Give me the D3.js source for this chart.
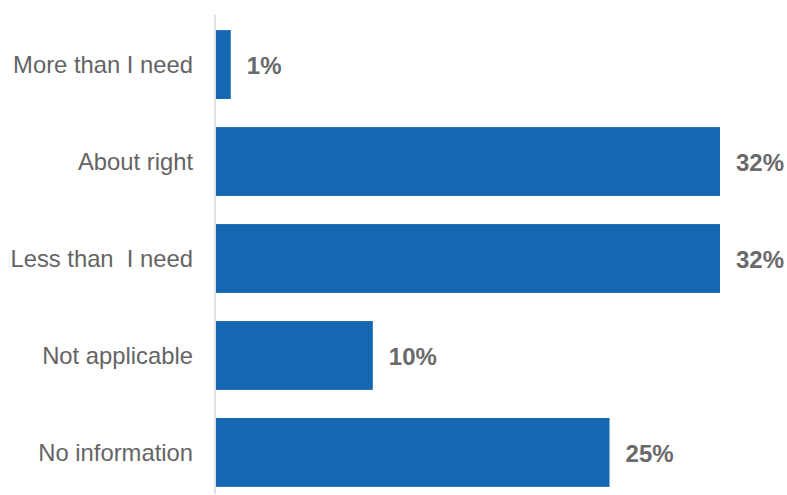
<!DOCTYPE html>
<html>
<head>
<meta charset="utf-8">
<script src="https://cdn.jsdelivr.net/npm/d3@7"></script>
<style>
  html, body { margin: 0; padding: 0; background: #fff; }
  svg { display: block; }
  text { white-space: pre; }
</style>
</head>
<body>
<svg id="chart" width="787" height="495"></svg>
<script>
const categories = ["More than I need", "About right", "Less than  I need", "Not applicable", "No information"];
const values = [1, 32, 32, 10, 25];
const valueLabels = ["1%", "32%", "32%", "10%", "25%"];

const svg = d3.select("#chart");
const font = "'Liberation Sans', Arial, sans-serif";

const x = d3.scaleLinear().domain([0, 32]).range([215, 720]);
const y = d3.scaleBand().domain(categories).range([2, 515]).paddingInner(0.29).paddingOuter(0.29);

// vertical category axis line
svg.append("line")
  .attr("x1", x(0)).attr("x2", x(0))
  .attr("y1", 15).attr("y2", 494)
  .attr("stroke", "#d9d9d9").attr("stroke-width", 1.5);

const rows = categories.map((c, i) => ({ c, v: values[i], l: valueLabels[i] }));

svg.selectAll("rect.bar").data(rows).join("rect")
  .attr("class", "bar")
  .attr("x", x(0) + 1)
  .attr("y", d => y(d.c))
  .attr("width", d => x(d.v) - x(0) - 1)
  .attr("height", y.bandwidth())
  .attr("fill", "#1467b0");

svg.selectAll("text.cat").data(rows).join("text")
  .attr("class", "cat")
  .attr("x", x(0) - 22)
  .attr("y", d => y(d.c) + y.bandwidth() / 2)
  .attr("dy", "0.36em")
  .attr("text-anchor", "end")
  .attr("font-family", font)
  .attr("font-size", 23.8)
  .attr("fill", "#646464")
  .text(d => d.c);

svg.selectAll("text.val").data(rows).join("text")
  .attr("class", "val")
  .attr("x", d => x(d.v) + 16)
  .attr("y", d => y(d.c) + y.bandwidth() / 2)
  .attr("dy", "0.39em")
  .attr("font-family", font)
  .attr("font-size", 24)
  .attr("font-weight", "bold")
  .attr("fill", "#6a6a6a")
  .text(d => d.l);
</script>
</body>
</html>
